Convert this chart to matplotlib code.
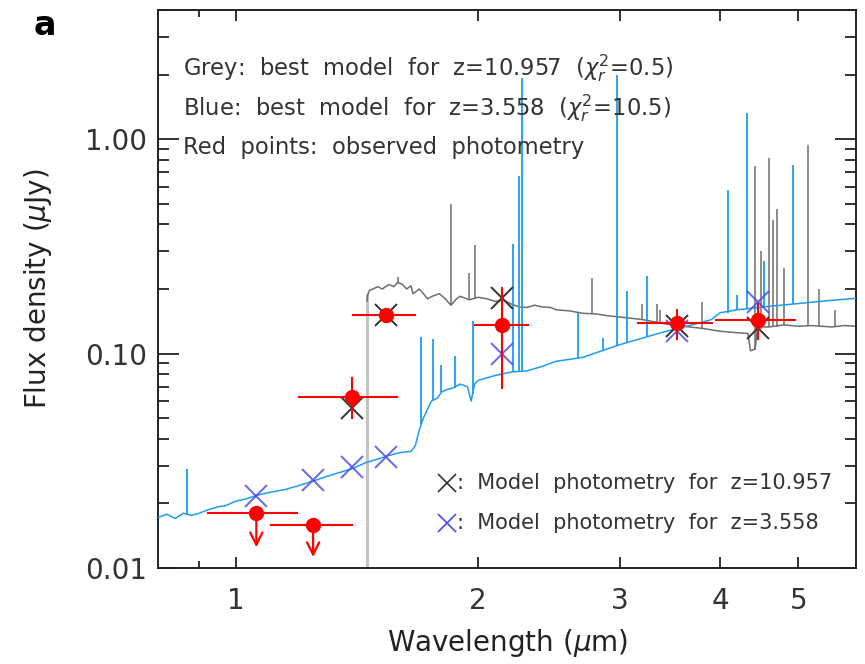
import numpy as np
import matplotlib.pyplot as plt
from matplotlib.ticker import FixedLocator, FixedFormatter, NullFormatter

# observed photometry (red)
obs_w = [1.06, 1.247, 1.394, 1.536, 2.14, 3.53, 4.46]
obs_f = [0.018, 0.0158, 0.063, 0.152, 0.136, 0.139, 0.144]
obs_wlo = [0.923, 1.105, 1.198, 1.398, 1.98, 3.16, 3.95]
obs_whi = [1.19, 1.394, 1.585, 1.67, 2.31, 3.91, 4.95]
obs_flo = [0.018, 0.0158, 0.050, 0.152, 0.069, 0.117, 0.117]
obs_fhi = [0.018, 0.0158, 0.0765, 0.152, 0.203, 0.160, 0.171]
upper_limit = [True, True, False, False, False, False, False]
arrow_end = [0.0125, 0.01125, None, None, None, None, None]

# model photometry
grey_x_w = [1.394, 1.536, 2.14, 3.53, 4.46]
grey_x_f = [0.056, 0.152, 0.182, 0.135, 0.132]
blue_x_w = [1.06, 1.247, 1.394, 1.536, 2.14, 3.53, 4.46]
blue_x_f = [0.0216, 0.0257, 0.0295, 0.0328, 0.100, 0.128, 0.173]

# grey model spectrum, z=10.957
break_w = 1.455
break_top = 0.19
grey_w = [1.455, 1.458, 1.465, 1.48, 1.50, 1.52, 1.55, 1.57, 1.59, 1.61, 1.63, 1.65,
          1.66, 1.69, 1.71, 1.73, 1.76, 1.79, 1.82, 1.85, 1.88, 1.90, 1.95, 2.00,
          2.05, 2.10, 2.15, 2.20, 2.25, 2.30, 2.35, 2.40, 2.46, 2.50, 2.60, 2.70,
          2.80, 2.90, 3.00, 3.10, 3.20, 3.40, 3.60, 3.80, 4.00, 4.20, 4.33, 4.36,
          4.42, 4.45, 4.60, 4.80, 5.00, 5.20, 5.50, 5.70, 5.90]
grey_f = [0.175, 0.188, 0.197, 0.200, 0.205, 0.200, 0.210, 0.205, 0.215, 0.210, 0.200, 0.207,
          0.190, 0.200, 0.190, 0.180, 0.186, 0.190, 0.180, 0.168, 0.180, 0.185, 0.178, 0.183,
          0.180, 0.175, 0.178, 0.170, 0.165, 0.164, 0.168, 0.165, 0.164, 0.160, 0.158, 0.154,
          0.153, 0.150, 0.148, 0.146, 0.144, 0.138, 0.134, 0.131, 0.127, 0.125, 0.124, 0.103,
          0.105, 0.133, 0.133, 0.136, 0.134, 0.135, 0.133, 0.135, 0.134]
grey_line_w = [1.59, 1.85, 1.95, 1.98, 2.77, 3.20, 3.34, 3.37, 3.80, 4.42, 4.50, 4.60,
               4.65, 4.70, 4.80, 5.14, 5.30, 5.55]
grey_line_lo = [0.21, 0.17, 0.178, 0.18, 0.153, 0.144, 0.139, 0.139, 0.131, 0.105, 0.13, 0.133,
                0.133, 0.133, 0.136, 0.134, 0.135, 0.133]
grey_line_hi = [0.228, 0.50, 0.238, 0.32, 0.226, 0.17, 0.17, 0.16, 0.174, 0.75, 0.30, 0.82,
                0.42, 0.47, 0.25, 0.94, 0.20, 0.16]

# blue model spectrum, z=3.558
blue_w = [0.80, 0.82, 0.84, 0.86, 0.88, 0.90, 0.92, 0.95, 0.97, 1.00, 1.03, 1.06,
          1.10, 1.15, 1.20, 1.25, 1.30, 1.35, 1.40, 1.45, 1.50, 1.55, 1.60, 1.65,
          1.67, 1.69, 1.71, 1.73, 1.75, 1.78, 1.80, 1.83, 1.86, 1.90, 1.94, 1.96,
          1.98, 2.00, 2.10, 2.20, 2.30, 2.40, 2.50, 2.60, 2.70, 2.85, 3.00, 3.20,
          3.40, 3.60, 3.80, 3.90, 3.95, 4.00, 4.20, 4.40, 4.60, 5.00, 5.40, 5.90]
blue_f = [0.0172, 0.0178, 0.0170, 0.0180, 0.0176, 0.0180, 0.0186, 0.0193, 0.0195, 0.0205, 0.0210, 0.0218,
          0.0225, 0.0232, 0.0243, 0.0255, 0.0268, 0.0280, 0.0292, 0.0310, 0.0322, 0.0335, 0.0345, 0.0350,
          0.0370, 0.0440, 0.0500, 0.0550, 0.0600, 0.0620, 0.0660, 0.0680, 0.0690, 0.0720, 0.0700, 0.0600,
          0.0720, 0.0750, 0.0790, 0.0820, 0.0830, 0.0870, 0.0920, 0.0940, 0.0960, 0.1030, 0.1100, 0.1180,
          0.1260, 0.1330, 0.1400, 0.1440, 0.1500, 0.1550, 0.1600, 0.1630, 0.1660, 0.1710, 0.1760, 0.1810]
blue_line_w = [0.87, 1.70, 1.76, 1.80, 1.87, 1.97, 2.21, 2.25, 2.27, 2.66, 2.86, 2.98,
               3.06, 3.24, 4.09, 4.20, 4.32, 4.53, 4.93]
blue_line_lo = [0.0176, 0.047, 0.060, 0.066, 0.069, 0.065, 0.082, 0.083, 0.083, 0.095, 0.103, 0.110,
                0.112, 0.119, 0.155, 0.160, 0.162, 0.165, 0.171]
blue_line_hi = [0.029, 0.12, 0.117, 0.088, 0.097, 0.142, 0.325, 0.67, 1.92, 0.154, 0.118, 2.0,
                0.196, 0.23, 0.58, 0.187, 1.33, 0.27, 0.76]

x_ticks = [1, 2, 3, 4, 5]
y_ticks = [0.01, 0.1, 1.0]
y_tick_labels = ['0.01', '0.10', '1.00']

grey = '#6e6e6e'
blue = '#1e9cf5'
red = '#ff0000'

fig = plt.figure(figsize=(8.65, 6.64), dpi=100)
ax = fig.add_axes([0.1827, 0.1446, 0.807, 0.8404])
ax.set_xscale('log')
ax.set_yscale('log')
ax.set_xlim(0.8, 5.9)
ax.set_ylim(0.01, 4.0)

# spectra
ax.vlines(break_w, 0.01, break_top, color='#c4c4c4', lw=2.2, zorder=1)
ax.plot(grey_w, grey_f, color=grey, lw=1.1, zorder=2)
ax.vlines(grey_line_w, grey_line_lo, grey_line_hi, color=grey, lw=1.1, zorder=2)
ax.plot(blue_w, blue_f, color=blue, lw=1.1, zorder=3)
ax.vlines(blue_line_w, blue_line_lo, blue_line_hi, color=blue, lw=1.3, zorder=3)

# model photometry
ax.plot(grey_x_w, grey_x_f, 'x', color='#333333', ms=16, mew=1.4, zorder=4)
ax.plot(blue_x_w, blue_x_f, 'x', color='#4a4af5', ms=16, mew=1.4, alpha=0.85, zorder=4)

# observed photometry
for i in range(len(obs_w)):
    w, f = obs_w[i], obs_f[i]
    ax.plot([obs_wlo[i], obs_whi[i]], [f, f], color=red, lw=1.5, zorder=5)
    if upper_limit[i]:
        ax.annotate('', xy=(w, arrow_end[i]), xytext=(w, f),
                    arrowprops=dict(arrowstyle='->', color=red, lw=1.6,
                                    mutation_scale=22, shrinkA=0, shrinkB=0),
                    zorder=5)
    else:
        ax.plot([w, w], [obs_flo[i], obs_fhi[i]], color=red, lw=1.5, zorder=5)
ax.plot(obs_w, obs_f, 'o', color=red, ms=10, zorder=6)

# axes styling
ax.xaxis.set_major_locator(FixedLocator(x_ticks))
ax.xaxis.set_major_formatter(FixedFormatter([str(t) for t in x_ticks]))
ax.xaxis.set_minor_locator(FixedLocator([0.9]))
ax.xaxis.set_minor_formatter(NullFormatter())
ax.yaxis.set_major_locator(FixedLocator(y_ticks))
ax.yaxis.set_major_formatter(FixedFormatter(y_tick_labels))
ax.tick_params(which='both', direction='in', top=True, right=True,
               labelsize=20, colors='#222222', labelcolor='#333333', width=1.3)
ax.tick_params(axis='x', which='major', length=8, pad=14)
ax.tick_params(axis='x', which='minor', length=5)
ax.tick_params(axis='y', which='major', length=15, pad=8)
ax.tick_params(axis='y', which='minor', length=8)
for s in ax.spines.values():
    s.set_linewidth(1.4)
    s.set_color('#222222')

ax.set_xlabel(r'Wavelength ($\mu$m)', fontsize=20, color='#222222', labelpad=8)
ax.set_ylabel(r'Flux density ($\mu$Jy)', fontsize=20, color='#222222', labelpad=22)

txt = dict(transform=ax.transAxes, fontsize=16.3, color='#333333', va='center', ha='left')
ax.text(0.036, 0.896, r'Grey:  best  model  for  z=10.957  ($\chi^2_r$=0.5)', **txt)
ax.text(0.036, 0.824, r'Blue:  best  model  for  z=3.558  ($\chi^2_r$=10.5)', **txt)
ax.text(0.036, 0.753, 'Red  points:  observed  photometry', **txt)

leg = dict(txt, fontsize=15)
ax.plot(0.414, 0.152, 'x', color='#333333', ms=13, mew=1.2, transform=ax.transAxes)
ax.plot(0.414, 0.081, 'x', color='#4a4af5', ms=13, mew=1.2, transform=ax.transAxes)
ax.text(0.428, 0.152, ':  Model  photometry  for  z=10.957', **leg)
ax.text(0.428, 0.081, ':  Model  photometry  for  z=3.558', **leg)

fig.text(0.052, 0.962, 'a', fontsize=24, fontweight='bold', ha='center', va='center')

fig.savefig('out.png', dpi=100)
